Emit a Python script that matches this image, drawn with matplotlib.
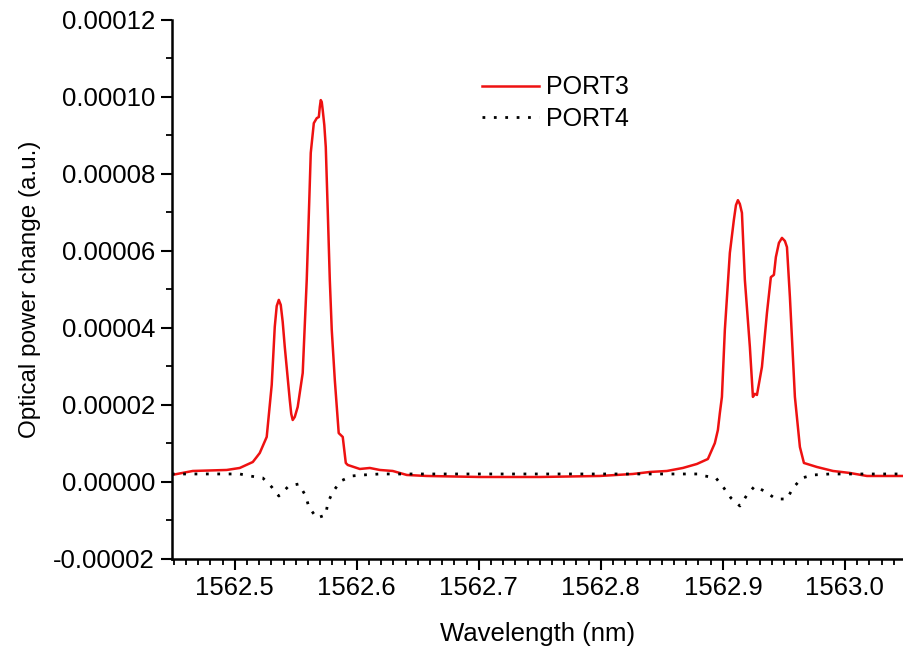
import numpy as np
import matplotlib
matplotlib.use('Agg')
import matplotlib.pyplot as plt
from matplotlib.ticker import MultipleLocator, FormatStrFormatter

plt.rcParams['font.family'] = ['Liberation Sans', 'DejaVu Sans']
plt.rcParams['axes.unicode_minus'] = False

# PORT3 (red), wavelength in nm, power in units of 1e-6
wl3 = [1562.4484, 1562.4656, 1562.4934, 1562.5041, 1562.5148, 1562.5180,
       1562.5205, 1562.5262, 1562.5303, 1562.5316, 1562.5328, 1562.5344,
       1562.5361, 1562.5377, 1562.5393, 1562.5410, 1562.5451, 1562.5463,
       1562.5475, 1562.5492, 1562.5516, 1562.5557, 1562.5590, 1562.5607,
       1562.5623, 1562.5648, 1562.5672, 1562.5689, 1562.5697, 1562.5705,
       1562.5713, 1562.5721, 1562.5734, 1562.5746, 1562.5762, 1562.5779,
       1562.5795, 1562.5820, 1562.5852, 1562.5885, 1562.5910, 1562.5926,
       1562.6025, 1562.6107, 1562.6189, 1562.6295, 1562.6410, 1562.6574,
       1562.7010, 1562.7500, 1562.7990, 1562.8262, 1562.8402, 1562.8541,
       1562.8672, 1562.8787, 1562.8877, 1562.8934, 1562.8959, 1562.8975,
       1562.8992, 1562.9016, 1562.9057, 1562.9090, 1562.9107, 1562.9123,
       1562.9139, 1562.9156, 1562.9180, 1562.9221, 1562.9246, 1562.9262,
       1562.9279, 1562.9320, 1562.9361, 1562.9393, 1562.9418, 1562.9434,
       1562.9459, 1562.9484, 1562.9508, 1562.9525, 1562.9549, 1562.9590,
       1562.9631, 1562.9664, 1562.9770, 1562.9902, 1563.0041, 1563.0180,
       1563.0484]
p3 = [1.82, 2.86, 3.12, 3.64, 5.19, 6.49,
      7.53, 11.7, 25.2, 33.0, 40.3, 45.7,
      47.3, 46.0, 41.6, 35.1, 21.3, 17.7,
      16.1, 16.9, 19.5, 28.3, 52.5, 69.3,
      85.5, 93.2, 94.5, 94.8, 97.4, 99.2,
      98.7, 96.6, 92.7, 87.0, 70.6, 52.5,
      39.5, 26.5, 12.7, 11.7, 4.94, 4.42,
      3.38, 3.64, 3.12, 2.86, 1.82, 1.56,
      1.30, 1.30, 1.56, 2.08, 2.60, 2.86,
      3.64, 4.68, 5.97, 10.1, 13.5, 17.9,
      22.1, 39.5, 59.5, 68.1, 71.9, 73.2,
      72.2, 69.9, 52.5, 35.1, 22.1, 22.9,
      22.6, 29.9, 43.9, 53.2, 53.8, 58.4,
      62.1, 63.4, 62.6, 61.0, 48.1, 22.1,
      9.09, 4.94, 3.90, 2.86, 2.34, 1.56,
      1.56]

# PORT4 (black dotted)
wl4 = [1562.4484, 1562.5041, 1562.5123, 1562.5230, 1562.5303, 1562.5361,
       1562.5443, 1562.5525, 1562.5582, 1562.5607, 1562.5672, 1562.5746,
       1562.5762, 1562.5803, 1562.5869, 1562.5959, 1562.6049, 1562.6189,
       1562.8811, 1562.8852, 1562.8943, 1562.9008, 1562.9066, 1562.9139,
       1562.9197, 1562.9262, 1562.9352, 1562.9434, 1562.9525, 1562.9574,
       1562.9648, 1562.9738, 1562.9877, 1563.0484]
p4 = [2.08, 2.08, 1.56, 1.04, -1.30, -3.64,
      -1.04, -0.52, -3.64, -6.49, -9.35, -8.57,
      -5.45, -2.60, 0.26, 1.56, 1.82, 2.08,
      2.08, 1.56, 1.04, -1.56, -4.16, -6.23,
      -3.38, -1.04, -2.60, -4.42, -4.42, -1.56,
      1.04, 1.82, 2.08, 2.08]

fig = plt.figure(figsize=(9.04, 6.49), dpi=100)
ax = fig.add_axes([0.190, 0.1387, 0.81, 0.8305])

ax.plot(wl3, np.array(p3) * 1e-6, color='#ee1111', lw=1.8, label='PORT3',
        solid_joinstyle='round')
ax.plot(wl4, np.array(p4) * 1e-6, color='black', lw=2.0,
        linestyle=(0, (1, 3.1)), label='PORT4')

ax.set_xlim(1562.4484, 1563.0484)
ax.set_ylim(-0.00002, 0.00012)
ax.xaxis.set_major_locator(MultipleLocator(0.1))
ax.xaxis.set_minor_locator(MultipleLocator(0.01))
ax.xaxis.set_major_formatter(FormatStrFormatter('%.1f'))
ax.yaxis.set_major_locator(MultipleLocator(0.00002))
ax.yaxis.set_minor_locator(MultipleLocator(0.00001))
ax.yaxis.set_major_formatter(FormatStrFormatter('%.5f'))

for s in ['top', 'right']:
    ax.spines[s].set_visible(False)
for s in ['left', 'bottom']:
    ax.spines[s].set_linewidth(1.8)

ax.tick_params(which='major', direction='out', length=8, width=1.5,
               labelsize=18.5, pad=4)
ax.tick_params(which='minor', direction='out', length=4, width=1.3)

ax.set_xlabel('Wavelength (nm)', fontsize=18.5, labelpad=16)
ax.set_ylabel('Optical power change (a.u.)', fontsize=17.5, labelpad=9)

fig.legend(loc='upper left', bbox_to_anchor=(0.533, 0.884), frameon=False,
           fontsize=18, handlelength=2.3, handletextpad=0.25,
           labelspacing=0.3, borderpad=0, borderaxespad=0)

fig.savefig('out.png', dpi=100)
